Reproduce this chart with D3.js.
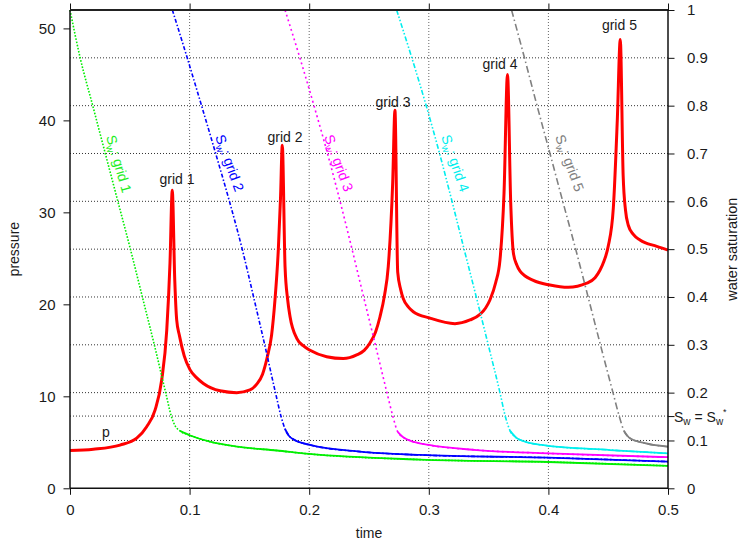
<!DOCTYPE html>
<html><head><meta charset="utf-8">
<script src="https://cdn.jsdelivr.net/npm/d3@7"></script>
<style>
body{margin:0;background:#fff}
text{font-family:"Liberation Sans",Arial,Helvetica,sans-serif;fill:#1a1a1a}
</style>
</head><body>
<svg id="c" width="741" height="546"></svg>
<script>
// ---- data ----
const timeTicks = [0, 0.1, 0.2, 0.3, 0.4, 0.5];
const pressureTicks = [0, 10, 20, 30, 40, 50];
const satTicks = [0, 0.1, 0.2, 0.3, 0.4, 0.5, 0.6, 0.7, 0.8, 0.9, 1];
const satTickLabels = ["0","0.1","0.2","0.3","0.4","0.5","0.6","0.7","0.8","0.9","1"];
const satStar = 0.151;

const pressure = [
 [0,4.1],[0.0195,4.25],[0.0418,4.7],[0.0558,5.45],[0.0641,6.7],[0.0711,8.5],[0.0767,11.8],[0.0809,17.2],[0.0836,24.5],[0.0855,32.4],
 [0.0876,22.6],[0.0892,18.3],[0.0915,16.6],[0.0955,14.4],[0.1003,12.9],[0.1060,12.0],[0.1115,11.4],[0.1254,10.6],[0.1394,10.4],[0.1505,10.7],[0.1560,11.3],[0.1610,12.4],[0.1650,14.3],[0.1685,16.6],[0.1714,20.5],[0.1742,26.0],[0.1760,31.5],[0.1775,37.3],
 [0.1798,24.1],[0.1820,20.5],[0.1840,18.65],[0.1896,16.3],[0.1950,15.5],[0.2007,15.0],[0.2146,14.3],[0.2285,14.1],[0.2397,14.5],[0.2460,15.0],[0.2508,15.8],[0.2555,17.0],[0.2592,18.65],[0.2630,21.0],[0.2661,24.1],[0.2698,33.2],[0.2717,41.1],
 [0.2740,23.5],[0.2765,21.6],[0.2787,20.6],[0.2830,19.7],[0.2870,19.2],[0.3010,18.5],[0.3219,17.9],[0.3344,18.3],[0.3428,18.9],[0.3475,19.6],[0.3512,20.5],[0.3560,22.4],[0.3595,24.8],[0.3629,32.1],[0.3658,45.0],
 [0.3685,31.0],[0.3707,25.6],[0.3735,24.3],[0.3763,23.6],[0.3874,22.6],[0.4013,22.1],[0.4166,21.85],[0.4320,22.3],[0.4390,22.9],[0.4431,23.7],[0.4465,24.7],[0.4500,26.3],[0.4543,30.5],[0.4576,40.0],[0.4601,48.8],
 [0.4625,34.0],[0.4645,30.2],[0.4668,28.6],[0.4710,27.6],[0.4766,27.0],[0.4906,26.3],[0.5,25.9]
];

const swGrid1 = [[0,1],[0.0085,0.9],[0.0190,0.8],[0.0295,0.7],[0.0400,0.6],[0.0505,0.5],[0.0605,0.4],[0.0705,0.3],[0.0800,0.2],[0.0848,0.15],[0.0878,0.131],[0.0920,0.12],[0.1,0.111],[0.117,0.0975],[0.14,0.087],[0.1728,0.079],[0.2,0.0718],[0.2926,0.060],[0.4,0.055],[0.5,0.047]];
const swGrid2 = [[0.0856,1],[0.0980,0.9],[0.1100,0.8],[0.1218,0.7],[0.1333,0.6],[0.1440,0.5],[0.1535,0.4],[0.1628,0.3],[0.1718,0.2],[0.1765,0.15],[0.1798,0.124],[0.1830,0.110],[0.1867,0.1025],[0.2007,0.0906],[0.2425,0.0766],[0.2926,0.0697],[0.4,0.064],[0.5,0.0557]];
const swGrid3 = [[0.1798,1],[0.1922,0.9],[0.2040,0.8],[0.2153,0.7],[0.2258,0.6],[0.2358,0.5],[0.2455,0.4],[0.2553,0.3],[0.2650,0.2],[0.2700,0.15],[0.2740,0.118],[0.2790,0.106],[0.2843,0.0996],[0.3,0.0906],[0.34,0.080],[0.4,0.073],[0.5,0.065]];
const swGrid4 = [[0.2731,1],[0.2858,0.9],[0.2978,0.8],[0.3090,0.7],[0.3194,0.6],[0.3295,0.5],[0.3397,0.4],[0.3497,0.3],[0.3595,0.2],[0.3640,0.15],[0.3680,0.12],[0.3730,0.106],[0.3800,0.098],[0.394,0.0906],[0.4515,0.080],[0.5,0.073]];
const swGrid5 = [[0.3692,1],[0.3800,0.9],[0.3905,0.8],[0.4013,0.7],[0.4120,0.6],[0.4228,0.5],[0.4332,0.4],[0.4435,0.3],[0.4540,0.2],[0.4593,0.15],[0.4632,0.12],[0.4682,0.1046],[0.4790,0.0954],[0.5,0.087]];

const gridNames = ["grid 1","grid 2","grid 3","grid 4","grid 5"];
const gridLabelT = [0.0895, 0.1798, 0.2701, 0.3595, 0.4594];
const gridLabelP = [33.1, 37.7, 41.5, 45.6, 49.8];
const swLabelT = [0.0301, 0.1212, 0.2124, 0.3102, 0.4055];
const swLabelS = [0.735, 0.735, 0.735, 0.735, 0.735];

// ---- styles ----
const swSeries = [swGrid1, swGrid2, swGrid3, swGrid4, swGrid5];
const swColors = ["#00ee00", "#0000ff", "#ff00ff", "#00eeee", "#808080"];
const swDash = ["1.6,1.6", "4,2,1.5,2", "2,3", "5,2,1.5,2,1.5,2", "7,3,1.5,3"];
const swAngle = [74, 70, 70, 71, 70];

// ---- layout ----
const L = 70, R = 668, T = 10, B = 488.3;
const svg = d3.select("#c");
const x = d3.scaleLinear([0, 0.5], [L, R]);
const yP = d3.scaleLinear([0, 52], [B, T]);
const yS = d3.scaleLinear([0, 1], [B, T]);

// grid
const g = svg.append("g");
satTicks.filter(v => v > 0 && v < 1).concat([satStar]).forEach(v => {
  g.append("line").attr("x1", L).attr("x2", R).attr("y1", yS(v)).attr("y2", yS(v))
   .attr("stroke", "#333").attr("stroke-width", 1).attr("stroke-dasharray", "1,2");
});
timeTicks.filter(v => v > 0 && v < 0.5).forEach(v => {
  g.append("line").attr("x1", x(v)).attr("x2", x(v)).attr("y1", T).attr("y2", B)
   .attr("stroke", "#666").attr("stroke-width", 1).attr("stroke-dasharray", "1,2");
});

// pressure curve
const lineP = d3.line().x(d => x(d[0])).y(d => yP(d[1])).curve(d3.curveMonotoneX);
svg.append("path").datum(pressure).attr("d", lineP)
  .attr("fill", "none").attr("stroke", "#ff0000").attr("stroke-width", 3).attr("stroke-linejoin", "round");

// saturation curves
const lineS = d3.line().x(d => x(d[0])).y(d => yS(d[1])).curve(d3.curveMonotoneX);
swSeries.forEach((s, i) => {
  svg.append("path").datum(s).attr("d", lineS)
    .attr("fill", "none").attr("stroke", swColors[i]).attr("stroke-width", 1.6)
    .attr("stroke-dasharray", swDash[i]);
  // tail portion looks solid
  const k = s.findIndex(d => d[1] <= 0.125);
  svg.append("path").datum(s.slice(k)).attr("d", lineS)
    .attr("fill", "none").attr("stroke", swColors[i]).attr("stroke-width", 1.8);
});

// axes
const axL = svg.append("g").attr("transform", `translate(${L},0)`)
  .call(d3.axisLeft(yP).tickValues(pressureTicks).tickSize(6.5).tickPadding(8).tickFormat(d3.format("d")));
const axB = svg.append("g").attr("transform", `translate(0,${B})`)
  .call(d3.axisBottom(x).tickValues(timeTicks).tickSize(6.5).tickPadding(9.5).tickFormat(d => d === 0 ? "0" : d3.format(".1f")(d)));
const axT = svg.append("g").attr("transform", `translate(0,${T})`)
  .call(d3.axisTop(x).tickValues(timeTicks).tickSize(6.5).tickFormat(""));
const axR = svg.append("g").attr("transform", `translate(${R},0)`)
  .call(d3.axisRight(yS).tickValues(satTicks.concat([satStar])).tickSize(6.5).tickPadding(12.5)
    .tickFormat(d => { const i = satTicks.indexOf(d); return i >= 0 ? satTickLabels[i] : ""; }));
[axL, axB, axT, axR].forEach(a => {
  a.selectAll(".domain").remove();
  a.selectAll(".tick line").attr("stroke", "#111").attr("stroke-width", 1);
  a.selectAll(".tick text").attr("font-size", 15).attr("fill", "#1a1a1a")
    .style("font-family", '"Liberation Sans",Arial,sans-serif');
});
// frame
svg.append("line").attr("x1", L).attr("x2", R).attr("y1", T).attr("y2", T).attr("stroke", "#222").attr("stroke-width", 2);
svg.append("line").attr("x1", L).attr("x2", R).attr("y1", B).attr("y2", B).attr("stroke", "#111").attr("stroke-width", 1.5);
svg.append("line").attr("x1", L).attr("x2", L).attr("y1", T).attr("y2", B).attr("stroke", "#111").attr("stroke-width", 1.5);
svg.append("line").attr("x1", R).attr("x2", R).attr("y1", T).attr("y2", B).attr("stroke", "#111").attr("stroke-width", 1.5);

// axis titles
svg.append("text").attr("transform", `translate(19,${(T + B) / 2}) rotate(-90)`)
  .attr("text-anchor", "middle").attr("font-size", 14).text("pressure");
svg.append("text").attr("transform", `translate(737,${(T + B) / 2}) rotate(-90)`)
  .attr("text-anchor", "middle").attr("font-size", 14.5).text("water saturation");
svg.append("text").attr("x", (L + R) / 2).attr("y", 538).attr("text-anchor", "middle")
  .attr("font-size", 14).text("time");

// grid labels above peaks
gridNames.forEach((n, i) => {
  svg.append("text").attr("x", x(gridLabelT[i])).attr("y", yP(gridLabelP[i]))
    .attr("text-anchor", "middle").attr("font-size", 14).text(n);
});

// p label
svg.append("text").attr("x", x(0.0268)).attr("y", yP(5.6)).attr("font-size", 14).text("p");

// Sw labels along curves
swLabelT.forEach((t, i) => {
  const tx = svg.append("text")
    .attr("transform", `translate(${x(t)},${yS(swLabelS[i])}) rotate(${swAngle[i]})`)
    .attr("font-size", 14).style("fill", swColors[i] === "#00ee00" ? "#22ee22" : swColors[i]);
  tx.append("tspan").text("S");
  tx.append("tspan").attr("font-size", 10).attr("dy", 3).text("w");
  tx.append("tspan").attr("dy", -3).text(": grid " + (i + 1));
});

// Sw = Sw* label at right axis
const st = svg.append("text").attr("x", R + 6).attr("y", yS(satStar) + 5.5).attr("font-size", 14);
st.append("tspan").text("S");
st.append("tspan").attr("font-size", 10).attr("dy", 3).text("w");
st.append("tspan").attr("dy", -3).text(" = S");
st.append("tspan").attr("font-size", 10).attr("dy", 3).text("w");
st.append("tspan").attr("font-size", 9).attr("dy", -10).text("*");
</script>
</body></html>
